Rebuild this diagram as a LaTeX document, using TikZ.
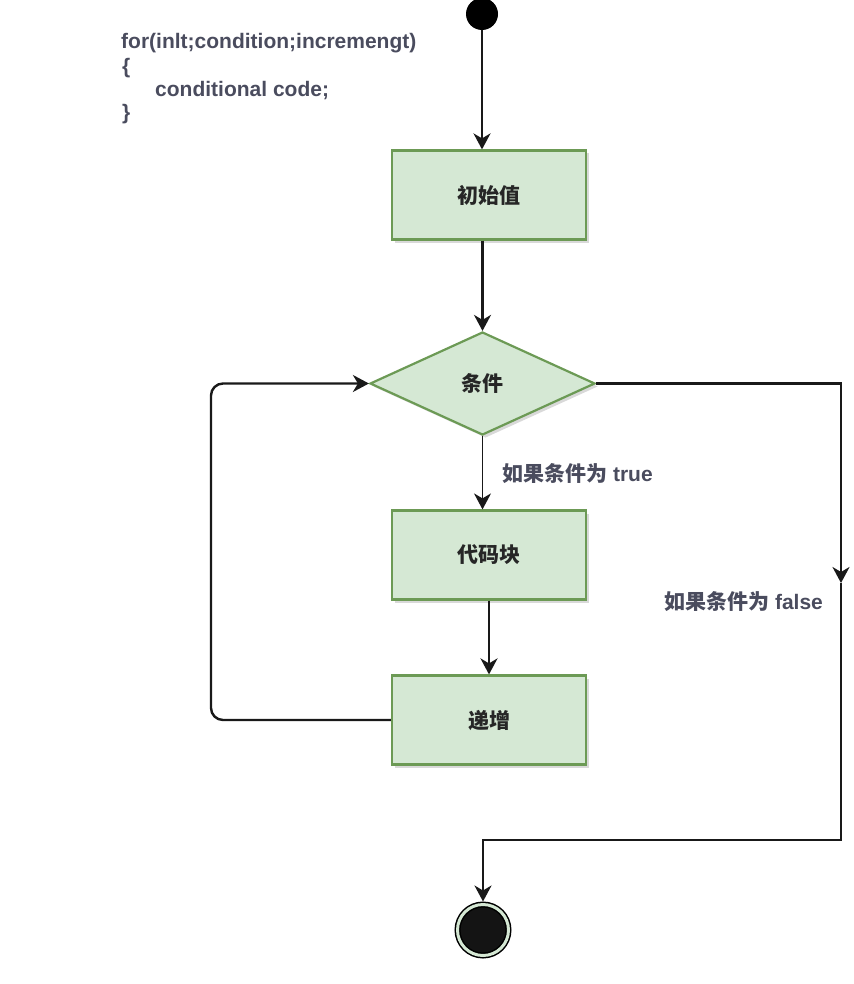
\documentclass[tikz,border=0pt]{standalone}
\usepackage{fontspec}
\setmainfont{Liberation Sans}
\newfontfamily\cjk{Noto Sans CJK SC}
\usetikzlibrary{arrows.meta,shapes.geometric,shadows}
\definecolor{boxfill}{HTML}{D5E8D4}
\definecolor{boxline}{HTML}{6C9A55}
\definecolor{textgray}{HTML}{4A4C5E}

\begin{document}
\begin{tikzpicture}[x=1pt, y=-1pt,
    block/.style={rectangle, draw=boxline, line width=2.2pt, fill=boxfill,
        minimum width=194pt, minimum height=89pt, text=black!85,
        font=\cjk\bfseries\fontsize{21}{25}\selectfont,
        drop shadow={shadow xshift=3pt, shadow yshift=-3pt, opacity=0.3}},
    decision/.style={diamond, draw=boxline, line width=2.2pt, fill=boxfill,
        minimum width=225pt, minimum height=103pt, inner sep=0pt, text=black!85,
        font=\cjk\bfseries\fontsize{21}{25}\selectfont,
        drop shadow={shadow xshift=3pt, shadow yshift=-3pt, opacity=0.3}},
    flow/.style={draw=black!90, line width=2.4pt, -{Stealth[length=16pt,width=17pt,inset=5pt]}},
    code/.style={inner sep=0pt, text=textgray, font=\bfseries\fontsize{21}{25}\selectfont},
    note/.style={inner sep=0pt, text=textgray, font=\bfseries\fontsize{21}{25}\selectfont}]
    \useasboundingbox (0,0) rectangle (853,984);

    % code snippet
    \node[code, anchor=base west] (forline) at (121,49) {for(inlt;condition;incremengt)};
    \node[code, anchor=base west] (openbr) at (122,74) {\{};
    \node[code, anchor=base west] (bodyline) at (155,97) {conditional code;};
    \node[code, anchor=base west] (closebr) at (122,120) {\}};

    % flow
    \node[circle, fill=black, minimum size=32pt, inner sep=0pt] (start) at (482,14) {};
    \node[block] (init) at (489,195) {初始值};
    \node[decision] (cond) at (482.5,383.5) {条件};
    \node[block] (body) at (489,555) {代码块};
    \node[block] (incr) at (489,720) {递增};
    \node[circle, fill=black!92, draw=black, double=boxfill, double distance=3pt,
        line width=1.5pt, minimum size=51pt, inner sep=0pt, outer sep=3pt] (stop) at (483,930) {};

    \coordinate (loopcorner) at (211,383.5);
    \coordinate (falseR) at (841,383.5);
    \coordinate (falseM) at (841,583);
    \coordinate (falseB) at (841,840);

    \draw[flow] (start.south) -- (start.south |- init.north);
    \draw[flow] (cond.north |- init.south) -- (cond.north);
    \draw[flow, line width=1.4pt] (cond.south) -- (cond.south |- body.north);
    \node[note, anchor=west] (truelbl) at (502,474) {{\cjk 如果条件为} true};
    \draw[flow] (body.south) -- (incr.north);
    \draw[flow, rounded corners=12pt] (incr.west) -| (loopcorner) -- (cond.west);

    \draw[flow] (cond.east) -- (falseR) -- (falseM);
    \draw[flow] (falseM) -- (falseB) -| (stop.north);
    \node[note, anchor=west] (falselbl) at (664,602) {{\cjk 如果条件为} false};
\end{tikzpicture}
\end{document}
